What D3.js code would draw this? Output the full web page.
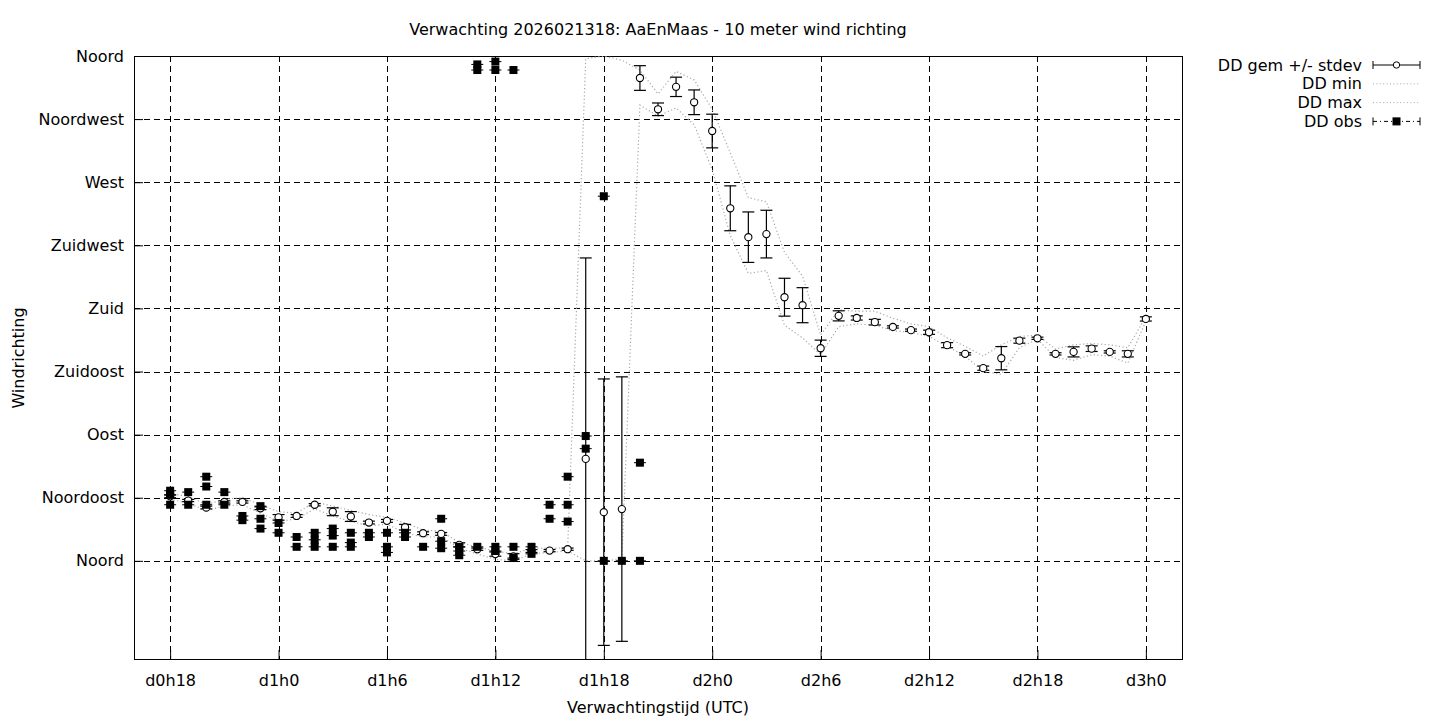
<!DOCTYPE html>
<html>
<head>
<meta charset="utf-8">
<script src="https://cdn.jsdelivr.net/npm/d3@7"></script>
<style>
  html, body { margin: 0; padding: 0; background: #fff; }
  svg { display: block; font-family: 'DejaVu Sans', sans-serif; }
</style>
</head>
<body>
<div id="chart"></div>
<script>
// ---- Data -------------------------------------------------------
// hours since d0h0, one forecast value per hour (d0h18 .. d3h0)
const HOURS = [18,19,20,21,22,23,24,25,26,27,28,29,30,31,32,33,34,35,36,37,38,39,40,41,42,43,44,45,
               46,47,48,49,50,51,52,53,54,55,56,57,58,59,60,61,62,63,64,65,66,67,68,69,70,71,72];

const DD_GEM = [46,43,38,42,42,37.5,31,32,40,35,31.6,27.3,28.5,24,19.7,19.2,11.4,8.3,4.8,3.1,7,7.3,8.3,72.7,34.7,36.9,344.3,
                322,338,327,306.5,251.4,230.8,233,188,182.3,151.6,174.7,173.2,170.2,166.8,164.5,163,153.8,147.6,137.4,144.5,157,158.7,147.6,149,151.3,149,147.6,172.5];

const DD_STDEV = [1,0.8,1,0.8,0.8,1,2,1,0.8,2.8,3.5,1,1,2,1,1,1.5,0.8,1.5,2,1,0.8,0.8,143.3,95,94.3,8.8,
                  4.5,6.9,8.8,12,16,18,17,13.5,12.5,5.8,3.6,1.5,2,0.8,0.8,1.5,1.8,0.8,1.5,8.3,1.8,0.8,0.8,3.6,2,0.8,2.2,1.5];

const DD_MIN = [44,41,36,39,40,34,28,30,37,32,28,25,26,20,17,17,9,5,1,0,5,6,7,0,0,1,325,
                317,323,311,279,232,205,207,168,159,147,167,169,168,164,163,160,153,146,135,133,152,158,145,143,147,146,141,171];

const DD_MAX = [48,46,40,44,45,40,35,34,42,39,36,33,31,27,22,21,13,10,7,5,9,9,9,358,360,357,350,
                333,349,343,322,291,259,256,220,203,161,179,178,178,173,169,167,159,153,146,154,160,161,151,154,155,154,152,174];

// observations (several per hour)
const OBS_HOURS = [18,18,18,19,19,20,20,20,21,21,22,22,23,23,23,24,24,25,25,26,26,26,27,27,27,28,28,28,29,29,
                   30,30,30,31,31,32,33,33,33,34,34,34,35,35,35,36,36,36,36,37,37,37,38,38,39,39,40,40,40,
                   41,41,42,42,43,44,44];
const OBS_DIR   = [50,47,40,49,40,60,53,40,49,40,32,29,39,30,23,27,20,17,10,20,15,10,23,18,10,20,13,10,20,17,
                   20,10,6,20,17,10,30,14,9,10,7,4,10,354,350,10,7,356,350,10,2,350,10,5,40,30,60,40,28,
                   89,80,260,0,0,70,0];

const X_TICKS = [18,24,30,36,42,48,54,60,66,72];
const X_TICK_LABELS = ['d0h18','d1h0','d1h6','d1h12','d1h18','d2h0','d2h6','d2h12','d2h18','d3h0'];
const Y_TICKS = [0,45,90,135,180,225,270,315,360];
const Y_TICK_LABELS = ['Noord','Noordoost','Oost','Zuidoost','Zuid','Zuidwest','West','Noordwest','Noord'];

const TITLE = 'Verwachting 2026021318: AaEnMaas - 10 meter wind richting';
const LEGEND = ['DD gem +/- stdev','DD min','DD max','DD obs'];

// ---- Build chart ------------------------------------------------
(function () {
  const W = 1440, H = 720;
  const PLOT = { left: 134, right: 1182, top: 56, bottom: 659 };
  const FONT = 16;
  const DOTTED = '#a8a8a8';

  const svg = d3.select('#chart').append('svg')
    .attr('width', W).attr('height', H);

  const x = d3.scaleLinear().domain([16, 74]).range([PLOT.left, PLOT.right]);
  const y = d3.scaleLinear().domain([-70, 360]).range([PLOT.bottom, PLOT.top]);

  svg.append('defs').append('clipPath').attr('id', 'plot-clip')
    .append('rect')
    .attr('x', PLOT.left).attr('y', PLOT.top)
    .attr('width', PLOT.right - PLOT.left).attr('height', PLOT.bottom - PLOT.top);

  // ---- Grid -------------------------------------------------------
  const grid = svg.append('g').attr('stroke', '#000').attr('stroke-width', 1)
    .attr('stroke-dasharray', '6,4').attr('shape-rendering', 'crispEdges');

  grid.selectAll('line.gx').data(X_TICKS).join('line')
    .attr('class', 'gx')
    .attr('x1', d => Math.round(x(d)) + 0.5).attr('x2', d => Math.round(x(d)) + 0.5)
    .attr('y1', PLOT.top).attr('y2', PLOT.bottom);

  grid.selectAll('line.gy').data(Y_TICKS).join('line')
    .attr('class', 'gy')
    .attr('x1', PLOT.left).attr('x2', PLOT.right)
    .attr('y1', d => Math.round(y(d)) + 0.5).attr('y2', d => Math.round(y(d)) + 0.5);

  // ---- Axes (gnuplot look: labels only, ticks inside) --------------
  const xAxis = d3.axisBottom(x).tickValues(X_TICKS)
    .tickFormat((d, i) => X_TICK_LABELS[i]).tickSize(-9).tickPadding(16);
  const yAxis = d3.axisLeft(y).tickValues(Y_TICKS)
    .tickFormat((d, i) => Y_TICK_LABELS[i]).tickSize(-9).tickPadding(10);

  const gx = svg.append('g').attr('transform', `translate(0,${PLOT.bottom})`).call(xAxis);
  const gy = svg.append('g').attr('transform', `translate(${PLOT.left},0)`).call(yAxis);
  [gx, gy].forEach(g => {
    g.select('.domain').remove();
    g.selectAll('line').attr('stroke', '#000');
    g.selectAll('text').attr('font-size', FONT).attr('font-family', 'DejaVu Sans, sans-serif').attr('fill', '#000');
  });

  svg.append('rect')
    .attr('x', PLOT.left + 0.5).attr('y', PLOT.top + 0.5)
    .attr('width', PLOT.right - PLOT.left).attr('height', PLOT.bottom - PLOT.top)
    .attr('fill', 'none').attr('stroke', '#000').attr('stroke-width', 1);

  // ---- Series -----------------------------------------------------
  const plot = svg.append('g').attr('clip-path', 'url(#plot-clip)');

  const minMaxLine = vals => d3.line()
    .x((d, i) => x(HOURS[i]))
    .y(d => y(d))(vals);

  [DD_MIN, DD_MAX].forEach(vals => {
    plot.append('path')
      .attr('d', minMaxLine(vals))
      .attr('fill', 'none')
      .attr('stroke', DOTTED)
      .attr('stroke-width', 1.2)
      .attr('stroke-dasharray', '1.2,2.4');
  });

  // mean +/- stdev
  const gem = plot.append('g').selectAll('g').data(HOURS).join('g');
  gem.append('line')
    .attr('x1', d => x(d)).attr('x2', d => x(d))
    .attr('y1', (d, i) => y(DD_GEM[i] - DD_STDEV[i]))
    .attr('y2', (d, i) => y(DD_GEM[i] + DD_STDEV[i]))
    .attr('stroke', '#000').attr('stroke-width', 1.2);
  [-1, 1].forEach(s => {
    gem.append('line')
      .attr('x1', d => x(d) - 6).attr('x2', d => x(d) + 6)
      .attr('y1', (d, i) => y(DD_GEM[i] + s * DD_STDEV[i]))
      .attr('y2', (d, i) => y(DD_GEM[i] + s * DD_STDEV[i]))
      .attr('stroke', '#000').attr('stroke-width', 1.2);
  });
  gem.append('circle')
    .attr('cx', d => x(d)).attr('cy', (d, i) => y(DD_GEM[i]))
    .attr('r', 3.6)
    .attr('fill', '#fff').attr('stroke', '#000').attr('stroke-width', 1.1);

  // observations
  const obs = plot.append('g').selectAll('g').data(OBS_HOURS).join('g');
  obs.append('line')
    .attr('x1', d => x(d) - 6).attr('x2', d => x(d) + 6)
    .attr('y1', (d, i) => y(OBS_DIR[i])).attr('y2', (d, i) => y(OBS_DIR[i]))
    .attr('stroke', '#000').attr('stroke-width', 1);
  obs.append('rect')
    .attr('x', d => x(d) - 4).attr('y', (d, i) => y(OBS_DIR[i]) - 4)
    .attr('width', 8).attr('height', 8)
    .attr('fill', '#000');

  // ---- Labels -----------------------------------------------------
  svg.append('text')
    .attr('x', 658).attr('y', 35)
    .attr('text-anchor', 'middle').attr('font-size', FONT)
    .text(TITLE);

  svg.append('text')
    .attr('x', 658).attr('y', 713)
    .attr('text-anchor', 'middle').attr('font-size', FONT)
    .text('Verwachtingstijd (UTC)');

  svg.append('text')
    .attr('transform', `translate(24,358) rotate(-90)`)
    .attr('text-anchor', 'middle').attr('font-size', FONT)
    .text('Windrichting');

  // ---- Legend -----------------------------------------------------
  const LX0 = 1373, LX1 = 1420, LTX = 1362;
  const legend = svg.append('g');
  LEGEND.forEach((label, i) => {
    const ly = 65 + i * 18.8;
    legend.append('text')
      .attr('x', LTX).attr('y', ly).attr('dy', '0.35em')
      .attr('text-anchor', 'end').attr('font-size', FONT)
      .text(label);

    const g = legend.append('g').attr('stroke', '#000').attr('stroke-width', 1);
    if (i === 0 || i === 3) {
      g.append('line').attr('x1', LX0).attr('x2', LX1).attr('y1', ly).attr('y2', ly)
        .attr('stroke-dasharray', i === 3 ? '4,3,1,3' : null);
      [LX0, LX1].forEach(lx => g.append('line')
        .attr('x1', lx).attr('x2', lx).attr('y1', ly - 4).attr('y2', ly + 4));
      if (i === 0) {
        g.append('circle').attr('cx', (LX0 + LX1) / 2).attr('cy', ly).attr('r', 3.2)
          .attr('fill', '#fff');
      } else {
        g.append('rect').attr('x', (LX0 + LX1) / 2 - 3.5).attr('y', ly - 3.5)
          .attr('width', 7).attr('height', 7).attr('fill', '#000');
      }
    } else {
      g.append('line').attr('x1', LX0).attr('x2', LX1).attr('y1', ly).attr('y2', ly)
        .attr('stroke', DOTTED).attr('stroke-dasharray', '1,2.4');
    }
  });
}());
</script>
</body>
</html>
